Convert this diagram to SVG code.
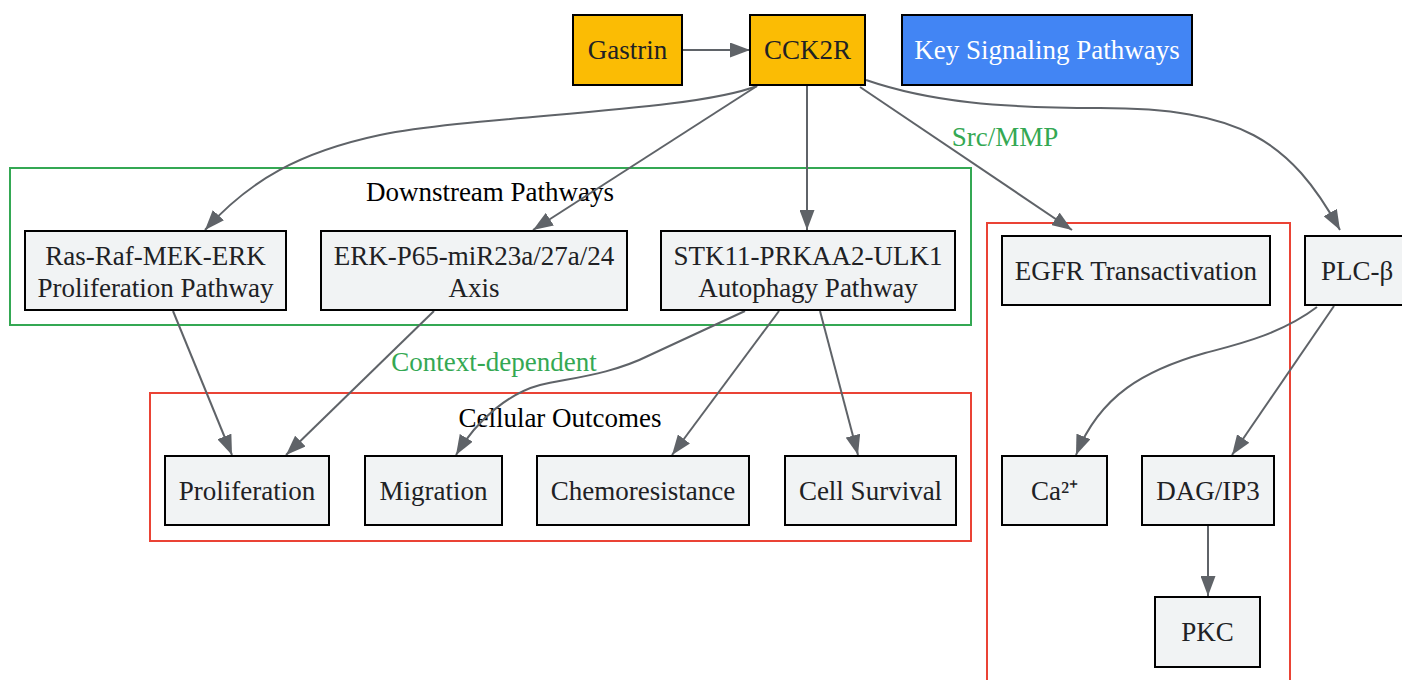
<svg xmlns="http://www.w3.org/2000/svg" width="1402" height="680" viewBox="0 0 1402 680">
<defs>
<marker id="arr" viewBox="0 0 20 15" refX="20" refY="7.5" markerWidth="20" markerHeight="15" markerUnits="userSpaceOnUse" orient="auto">
<path d="M0,0 L20,7.5 L0,15 z" fill="#5f6368"/>
</marker>
<style>
text{font-family:"Liberation Serif","Times New Roman",serif;font-size:27px;text-anchor:middle;dominant-baseline:central;fill:#202124}
.node rect{fill:#f1f3f4;stroke:#000;stroke-width:2}
.gold rect{fill:#fbbc04}
.blue rect{fill:#4285f4}
.blue text{fill:#fff}
.cg{fill:none;stroke:#34a853;stroke-width:2}
.cr{fill:none;stroke:#ea4335;stroke-width:2}
.cl{fill:#000}
.edges path{fill:none;stroke:#5f6368;stroke-width:2;marker-end:url(#arr)}
.el{fill:#34a853}
</style>
</defs>
<rect width="1402" height="680" fill="#fff"/>
<g id="clusters">
<rect class="cg" x="10" y="168" width="961" height="157"/>
<text class="cl" x="490" y="192">Downstream Pathways</text>
<rect class="cr" x="150" y="393" width="821" height="148"/>
<text class="cl" x="560" y="418">Cellular Outcomes</text>
<rect class="cr" x="987" y="223" width="303" height="480"/>
</g>
<g class="edges" id="connectors">
<path d="M682,50 L750,50"/>
<path d="M757,86 C690,112 480,115 380,135 C300,152 250,180 205,230"/>
<path d="M757,86 L533,230"/>
<path d="M807,86 L807,230"/>
<path d="M860,87 L1072,230"/>
<path d="M866,80 C930,102 1000,108 1100,108 C1240,108 1290,140 1340,230"/>
<path d="M173,311 L232,455"/>
<path d="M434,311 L286,455"/>
<path d="M745,311 L650,355 C610,375 570,378 540,385 C510,393 478,418 456,455"/>
<path d="M779,311 L672,455"/>
<path d="M820,311 L858,455"/>
<path d="M1317,307 C1280,335 1235,345 1205,353 C1145,370 1100,395 1076,455"/>
<path d="M1334,306 L1232,455"/>
<path d="M1208,526 L1208,596"/>
<text class="el" x="1005" y="137">Src/MMP</text>
<text class="el" x="494" y="362">Context-dependent</text>
</g>
<g id="gastrin" class="node gold"><rect x="573" y="15" width="109" height="70"/><text x="627.5" y="50">Gastrin</text></g>
<g id="cck2r" class="node gold"><rect x="750" y="15" width="115" height="70"/><text x="807.5" y="50">CCK2R</text></g>
<g id="key" class="node blue"><rect x="902" y="15" width="290" height="70"/><text x="1047" y="50">Key Signaling Pathways</text></g>
<g id="ras" class="node"><rect x="25" y="231" width="261" height="79"/><text x="155.5" y="256">Ras-Raf-MEK-ERK</text><text x="155.5" y="288">Proliferation Pathway</text></g>
<g id="erk" class="node"><rect x="321" y="231" width="306" height="79"/><text x="474" y="256">ERK-P65-miR23a/27a/24</text><text x="474" y="288">Axis</text></g>
<g id="stk" class="node"><rect x="661" y="231" width="294" height="79"/><text x="808" y="256">STK11-PRKAA2-ULK1</text><text x="808" y="288">Autophagy Pathway</text></g>
<g id="prolif" class="node"><rect x="165" y="456" width="164" height="69"/><text x="247" y="491">Proliferation</text></g>
<g id="migr" class="node"><rect x="365" y="456" width="137" height="69"/><text x="433.5" y="491">Migration</text></g>
<g id="chemo" class="node"><rect x="537" y="456" width="212" height="69"/><text x="643" y="491">Chemoresistance</text></g>
<g id="surv" class="node"><rect x="785" y="456" width="171" height="69"/><text x="870.5" y="491">Cell Survival</text></g>
<g id="egfr" class="node"><rect x="1002" y="236" width="268" height="69"/><text x="1136" y="271">EGFR Transactivation</text></g>
<g id="plc" class="node"><rect x="1305" y="236" width="104" height="69"/><text x="1357" y="271">PLC-β</text></g>
<g id="ca" class="node"><rect x="1002" y="456" width="105" height="69"/><text x="1054.5" y="491">Ca²⁺</text></g>
<g id="dag" class="node"><rect x="1142" y="456" width="132" height="69"/><text x="1208" y="491">DAG/IP3</text></g>
<g id="pkc" class="node"><rect x="1155" y="597" width="105" height="70"/><text x="1207.5" y="632">PKC</text></g>
</svg>
